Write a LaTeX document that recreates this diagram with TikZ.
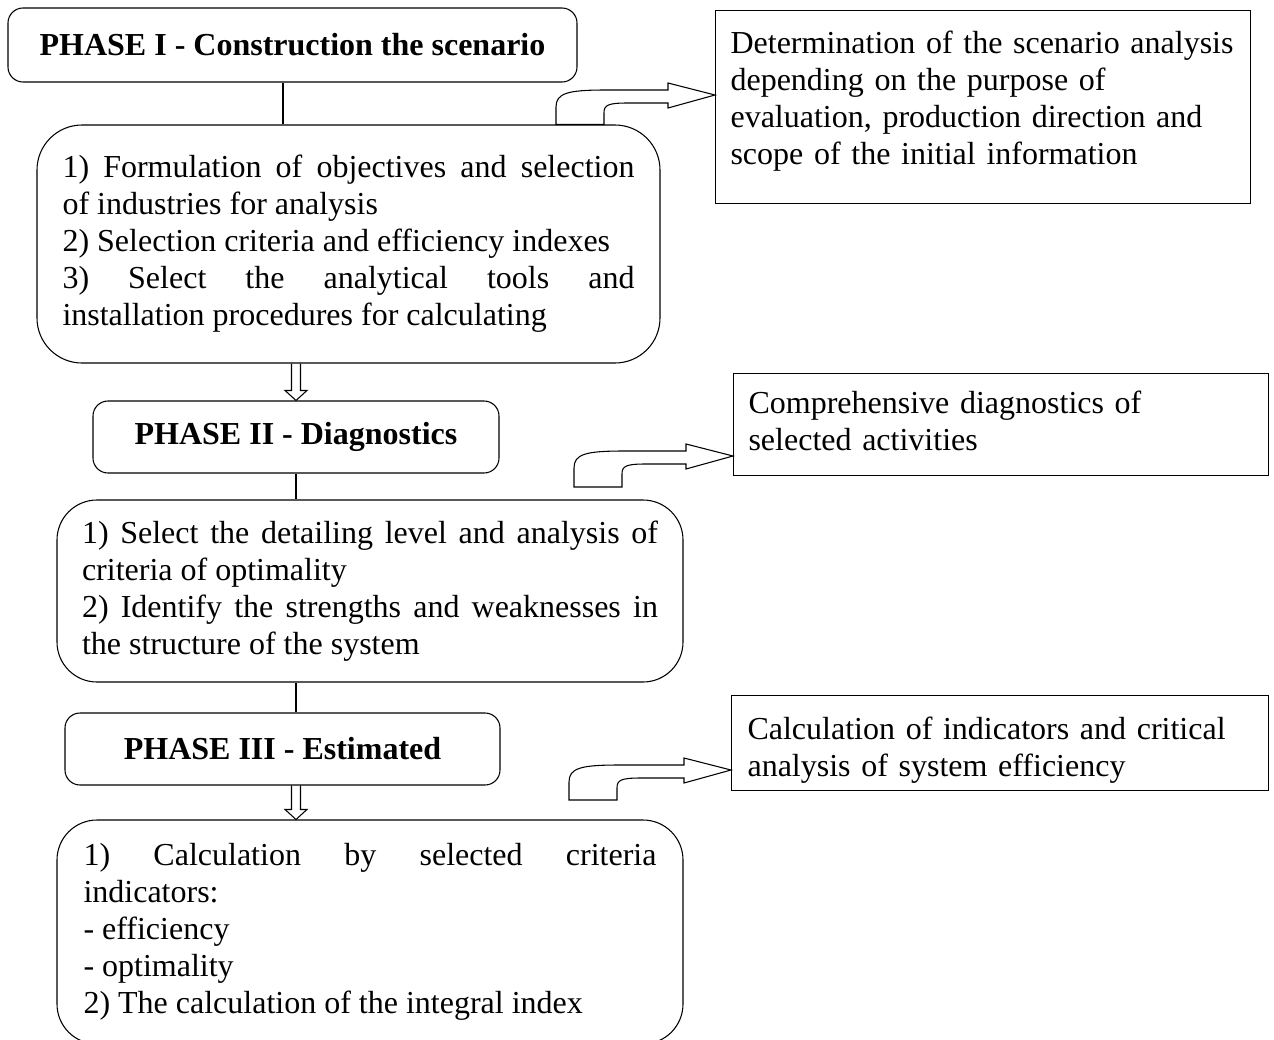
\documentclass[tikz,border=0pt]{standalone}
\usepackage{fontspec}
\setmainfont{Liberation Serif}
\usetikzlibrary{calc,positioning}
\newdimen\pxu \pxu=0.75pt
\tikzset{
  basic/.style  = {draw, line width=0.8pt, rectangle, inner sep=0pt,
                   font=\fontsize{24pt}{27.75pt}\selectfont},
  phase/.style  = {basic, rounded corners=15\pxu, align=center,
                   font=\fontsize{24pt}{27.75pt}\selectfont\bfseries},
  stage/.style  = {basic, rounded corners=40\pxu, align=justify},
  note/.style   = {basic, anchor=north west, align=left, inner xsep=15\pxu,
                   text width=505\pxu, minimum width=535\pxu},
  hollow/.style = {draw, line width=0.8pt, line join=miter}
}
% outline arrow pointing down: #1 start, #2 tip
\newcommand{\hollowdown}[2]{%
  \draw[hollow] ($(#1)+(-4.5,0)$) -- ($(#2)+(-4.5,-10)$) -- ($(#2)+(-11,-10)$) -- (#2)
    -- ($(#2)+(11,-10)$) -- ($(#2)+(4.5,-10)$) -- ($(#1)+(4.5,0)$);}
% bent outline arrow: #1 foot of the outer leg, #2 tip
\newcommand{\bentarrow}[2]{%
  \draw[hollow] (#1) -- ($(#1 |- #2)+(0,12)$)
    .. controls ($(#1 |- #2)+(0,-2)$) and ($(#1 |- #2)+(12,-5)$) .. ($(#1 |- #2)+(50,-5)$)
    -- ($(#2)+(-47,-5)$) -- ($(#2)+(-47,-12)$) -- (#2) -- ($(#2)+(-47,13)$) -- ($(#2)+(-47,8)$)
    -- ($(#1 |- #2)+(72,8)$) .. controls ($(#1 |- #2)+(52,8)$) and ($(#1 |- #2)+(48,10)$) .. ($(#1 |- #2)+(48,18)$)
    -- ($(#1)+(48,0)$) -- cycle;}

\begin{document}
\begin{tikzpicture}[x=0.75pt, y=-0.75pt]
\useasboundingbox (0,0) rectangle (1274,1039);

% phase I
\node[phase, minimum width=569\pxu, minimum height=74\pxu] (p1) at (292.5,45) {PHASE I - Construction the scenario};
\node[stage, rounded corners=45\pxu, minimum width=623\pxu, minimum height=238\pxu, text width=572\pxu] (s1) at (348.5,244)
  {1) Formulation of objectives and selection\linebreak of industries for analysis\\
   2) Selection criteria and efficiency indexes\\
   3) Select the analytical tools and\linebreak installation procedures for calculating};
\node[note, text height=43\pxu, text depth=150\pxu] (n1) at (715,10)
  {Determination of the scenario analysis\\ depending on the purpose of\\
   evaluation, production direction and\\ scope of the initial information};

% phase II
\node[phase, minimum width=406\pxu, minimum height=72\pxu] (p2) at (296,437) {PHASE II - Diagnostics};
\node[stage, minimum width=626\pxu, minimum height=182\pxu, text width=576\pxu] (s2) at (370,591)
  {1) Select the detailing level and analysis of\linebreak criteria of optimality\\
   2) Identify the strengths and weaknesses in\linebreak the structure of the system};
\node[note, text height=40\pxu, text depth=62\pxu] (n2) at (733,373)
  {Comprehensive diagnostics of\\ selected activities};

% phase III
\node[phase, minimum width=435\pxu, minimum height=72\pxu] (p3) at (282.5,749) {PHASE III - Estimated};
\node[stage, minimum width=626\pxu, minimum height=224\pxu, text width=573\pxu] (s3) at (370,932)
  {1) Calculation by selected criteria\linebreak indicators:\\
   - efficiency\\
   - optimality\\
   2) The calculation of the integral index};
\node[note, text height=44\pxu, text depth=51\pxu, minimum width=537\pxu] (n3) at (731,695)
  {Calculation of indicators and critical\\ analysis of system efficiency};

% links
\draw[line width=0.8pt] (p1.south) ++(-9.5,0) coordinate (l1) -- (l1 |- s1.north);
\draw[line width=0.8pt] (p2.south) -- (p2.south |- s2.north);
\draw[line width=0.8pt] (p3.north) ++(13.5,0) coordinate (l3) -- (l3 |- s2.south);
\hollowdown{p2.north |- s1.south}{p2.north}
\hollowdown{l3 |- p3.south}{l3 |- s3.north}

\coordinate (t1) at ($(n1.north west)+(0,85)$);
\coordinate (t2) at ($(n2.north west)+(0,83)$);
\coordinate (t3) at ($(n3.north west)+(0,75)$);
\coordinate (b1) at ($(s1.north)+(207.5,0)$);
\coordinate (b2) at (574,487);
\coordinate (b3) at (569,800);
\bentarrow{b1}{t1}
\bentarrow{b2}{t2}
\bentarrow{b3}{t3}
\end{tikzpicture}
\end{document}
